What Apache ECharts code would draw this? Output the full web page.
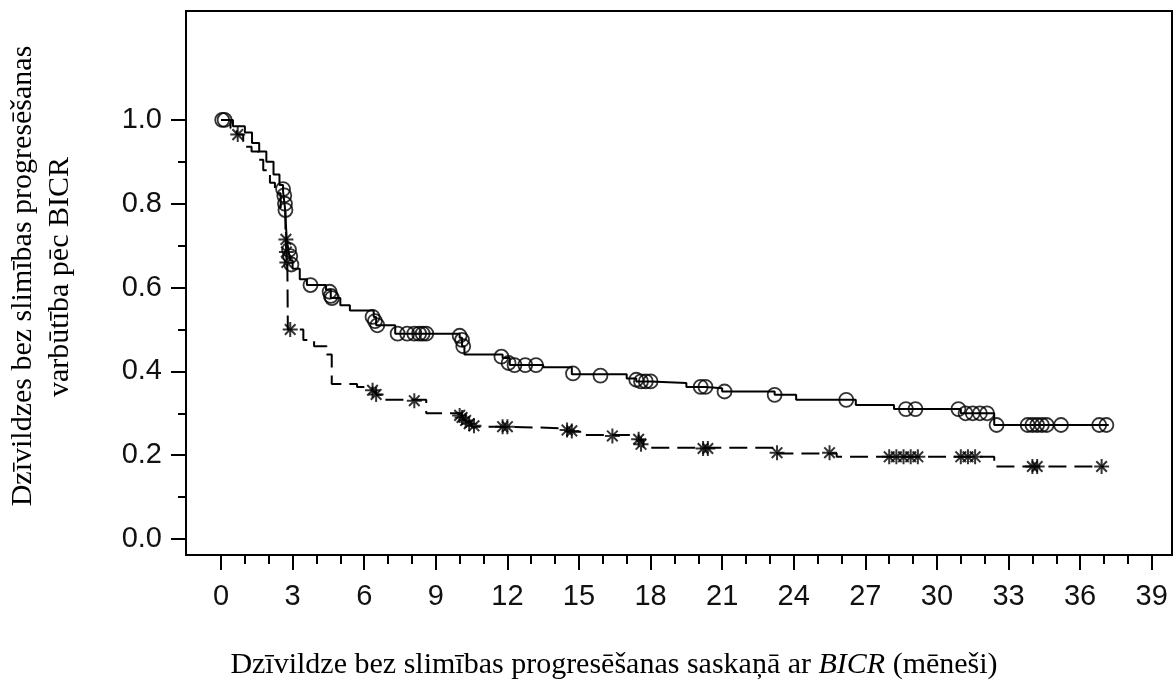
<!DOCTYPE html>
<html>
<head>
<meta charset="utf-8">
<script src="https://cdn.jsdelivr.net/npm/echarts@6/dist/echarts.min.js"></script>
<style>
html,body{margin:0;padding:0;background:#fff;}
#chart{width:1173px;height:689px;}
</style>
</head>
<body>
<div id="chart"></div>
<script>
// Upper curve (solid, circle censor marks)
const upperTime = [0, 0.5, 1.0, 1.3, 1.6, 1.9, 2.2, 2.45, 2.6, 2.68, 2.75, 2.82, 2.9, 3.0, 3.3, 3.6, 4.4, 4.6, 5.0, 5.4, 6.4, 6.5, 7.3, 10.0, 10.1, 10.2, 11.8, 12.1, 13.5, 14.7, 17.0, 17.4, 18.0, 19.5, 20.3, 21.0, 23.2, 24.1, 26.6, 28.2, 31.0, 32.4, 37.2];
const upperSurv = [1.0, 0.985, 0.97, 0.945, 0.925, 0.90, 0.87, 0.845, 0.83, 0.79, 0.72, 0.69, 0.665, 0.645, 0.62, 0.606, 0.595, 0.575, 0.558, 0.545, 0.53, 0.51, 0.49, 0.48, 0.46, 0.44, 0.432, 0.415, 0.41, 0.393, 0.383, 0.376, 0.372, 0.363, 0.36, 0.352, 0.344, 0.332, 0.32, 0.31, 0.30, 0.272, 0.272];
const upperCensorTime = [0.05, 0.15, 2.6, 2.65, 2.68, 2.7, 2.85, 2.9, 2.95, 3.75, 4.55, 4.6, 4.65, 6.35, 6.45, 6.55, 7.4, 7.8, 8.1, 8.3, 8.45, 8.6, 10.0, 10.1, 10.15, 11.75, 12.05, 12.3, 12.75, 13.2, 14.75, 15.9, 17.4, 17.6, 17.8, 18.0, 20.1, 20.3, 21.1, 23.2, 26.2, 28.7, 29.1, 30.9, 31.2, 31.5, 31.8, 32.1, 32.5, 33.8, 34.0, 34.2, 34.4, 34.6, 35.2, 36.8, 37.1];
const upperCensorSurv = [1.0, 1.0, 0.835, 0.82, 0.80, 0.785, 0.69, 0.675, 0.655, 0.606, 0.59, 0.58, 0.575, 0.53, 0.52, 0.51, 0.49, 0.49, 0.49, 0.49, 0.49, 0.49, 0.485, 0.475, 0.46, 0.435, 0.42, 0.415, 0.415, 0.415, 0.395, 0.39, 0.38, 0.376, 0.376, 0.376, 0.363, 0.363, 0.352, 0.344, 0.332, 0.31, 0.31, 0.31, 0.30, 0.30, 0.30, 0.30, 0.272, 0.272, 0.272, 0.272, 0.272, 0.272, 0.272, 0.272, 0.272];

// Lower curve (dashed, asterisk censor marks)
const lowerTime = [0, 0.4, 0.66, 0.93, 1.28, 1.56, 1.77, 2.05, 2.26, 2.5, 2.7, 2.74, 2.78, 2.8, 3.45, 3.9, 4.43, 4.64, 5.7, 6.35, 6.5, 6.8, 8.6, 10.1, 10.3, 10.5, 12.0, 14.5, 15.2, 17.5, 17.7, 23.3, 25.8, 32.4, 37.0];
const lowerSurv = [1.0, 0.98, 0.965, 0.936, 0.925, 0.905, 0.88, 0.85, 0.825, 0.79, 0.72, 0.685, 0.66, 0.50, 0.475, 0.46, 0.44, 0.37, 0.363, 0.352, 0.344, 0.332, 0.30, 0.29, 0.28, 0.268, 0.264, 0.256, 0.248, 0.236, 0.218, 0.204, 0.196, 0.173, 0.173];
const lowerCensorTime = [0.7, 2.72, 2.74, 2.76, 2.9, 6.35, 6.5, 8.1, 10.0, 10.1, 10.25, 10.4, 10.6, 11.8, 12.0, 14.5, 14.7, 16.4, 17.5, 17.6, 20.2, 20.4, 23.3, 25.5, 28.0, 28.3, 28.6, 28.9, 29.2, 31.0, 31.3, 31.6, 34.0, 34.2, 36.9];
const lowerCensorSurv = [0.965, 0.715, 0.685, 0.66, 0.50, 0.355, 0.345, 0.33, 0.295, 0.29, 0.283, 0.275, 0.27, 0.268, 0.268, 0.26, 0.258, 0.246, 0.238, 0.226, 0.216, 0.216, 0.206, 0.206, 0.196, 0.196, 0.196, 0.196, 0.196, 0.196, 0.196, 0.196, 0.173, 0.173, 0.173];

// Tick values
const xMajorTicks = [0, 3, 6, 9, 12, 15, 18, 21, 24, 27, 30, 33, 36, 39];
const xMinorTicks = [1, 2, 4, 5, 7, 8, 10, 11, 13, 14, 16, 17, 19, 20, 22, 23, 25, 26, 28, 29, 31, 32, 34, 35, 37, 38];
const yMajorTicks = [0, 0.2, 0.4, 0.6, 0.8, 1.0];
const yMinorTicks = [0.1, 0.3, 0.5, 0.7, 0.9];

const xTitle = 'Dzīvildze bez slimības progresēšanas saskaņā ar {i|BICR} (mēneši)';
const yTitle1 = 'Dzīvildzes bez slimības progresēšanas';
const yTitle2 = 'varbūtība pēc BICR';

const zip = (a, b) => a.map((v, i) => [v, b[i]]);
const asterisk = 'path://M0,-10 L0,10 M-10,0 L10,0 M-7.07,-7.07 L7.07,7.07 M-7.07,7.07 L7.07,-7.07';

const chart = echarts.init(document.getElementById('chart'), null, {renderer: 'canvas'});
const labelFont = {fontFamily: 'Liberation Sans, Arial, sans-serif', fontSize: 29, color: '#111'};
const serif = 'Liberation Serif, Times New Roman, serif';

// axis ranges chosen so that the plot box extends beyond 0..39 and 0..1
const X_MIN = -1.467, X_MAX = 39.85, Y_MIN = -0.0382, Y_MAX = 1.26;
const hiddenLine = {show: false, onZero: false};

chart.setOption({
  backgroundColor: '#fff',
  animation: false,
  grid: {left: 186, right: 1, top: 11, bottom: 134, show: true, borderColor: '#000', borderWidth: 2, backgroundColor: 'transparent'},
  xAxis: [
    {
      type: 'value', min: X_MIN, max: X_MAX, position: 'bottom',
      axisLine: hiddenLine,
      axisTick: {show: true, inside: false, length: 15, customValues: xMajorTicks, lineStyle: {color: '#000', width: 2}},
      splitLine: {show: false},
      axisLabel: Object.assign({margin: 27, customValues: xMajorTicks}, labelFont)
    },
    {
      type: 'value', min: X_MIN, max: X_MAX, position: 'bottom',
      axisLine: hiddenLine,
      axisTick: {show: true, inside: false, length: 9, customValues: xMinorTicks, lineStyle: {color: '#000', width: 2}},
      splitLine: {show: false},
      axisLabel: {show: false}
    }
  ],
  yAxis: [
    {
      type: 'value', min: Y_MIN, max: Y_MAX, position: 'left',
      axisLine: hiddenLine,
      axisTick: {show: true, inside: false, length: 15, customValues: yMajorTicks, lineStyle: {color: '#000', width: 2}},
      splitLine: {show: false},
      axisLabel: Object.assign({margin: 24, customValues: yMajorTicks, formatter: v => v.toFixed(1)}, labelFont)
    },
    {
      type: 'value', min: Y_MIN, max: Y_MAX, position: 'left',
      axisLine: hiddenLine,
      axisTick: {show: true, inside: false, length: 8, customValues: yMinorTicks, lineStyle: {color: '#000', width: 2}},
      splitLine: {show: false},
      axisLabel: {show: false}
    }
  ],
  series: [
    {
      type: 'line', xAxisIndex: 0, yAxisIndex: 0, step: 'end',
      data: zip(upperTime, upperSurv), symbol: 'none',
      lineStyle: {color: '#000', width: 2, type: 'solid'}
    },
    {
      type: 'line', xAxisIndex: 0, yAxisIndex: 0, step: 'end',
      data: zip(lowerTime, lowerSurv), symbol: 'none',
      lineStyle: {color: '#000', width: 2, type: [18, 8]}
    },
    {
      type: 'scatter', xAxisIndex: 0, yAxisIndex: 0,
      data: zip(upperCensorTime, upperCensorSurv), symbol: 'circle', symbolSize: 14,
      itemStyle: {color: 'rgba(0,0,0,0)', borderColor: '#000', borderWidth: 1.8}
    },
    {
      type: 'scatter', xAxisIndex: 0, yAxisIndex: 0,
      data: zip(lowerCensorTime, lowerCensorSurv), symbol: asterisk, symbolSize: 15,
      itemStyle: {color: 'rgba(0,0,0,0)', borderColor: '#000', borderWidth: 2}
    }
  ],
  graphic: [
    {
      type: 'text', x: 614, y: 665,
      style: {
        text: xTitle, fontFamily: serif, fontSize: 30, fill: '#000', align: 'center', verticalAlign: 'middle',
        rich: {i: {fontFamily: serif, fontSize: 30, fontStyle: 'italic', fill: '#000'}}
      }
    },
    {
      type: 'text', x: 23, y: 276, rotation: Math.PI / 2,
      style: {text: yTitle1, fontFamily: serif, fontSize: 30, fill: '#000', align: 'center', verticalAlign: 'middle'}
    },
    {
      type: 'text', x: 60, y: 277, rotation: Math.PI / 2,
      style: {text: yTitle2, fontFamily: serif, fontSize: 30, fill: '#000', align: 'center', verticalAlign: 'middle'}
    }
  ]
});
</script>
</body>
</html>
